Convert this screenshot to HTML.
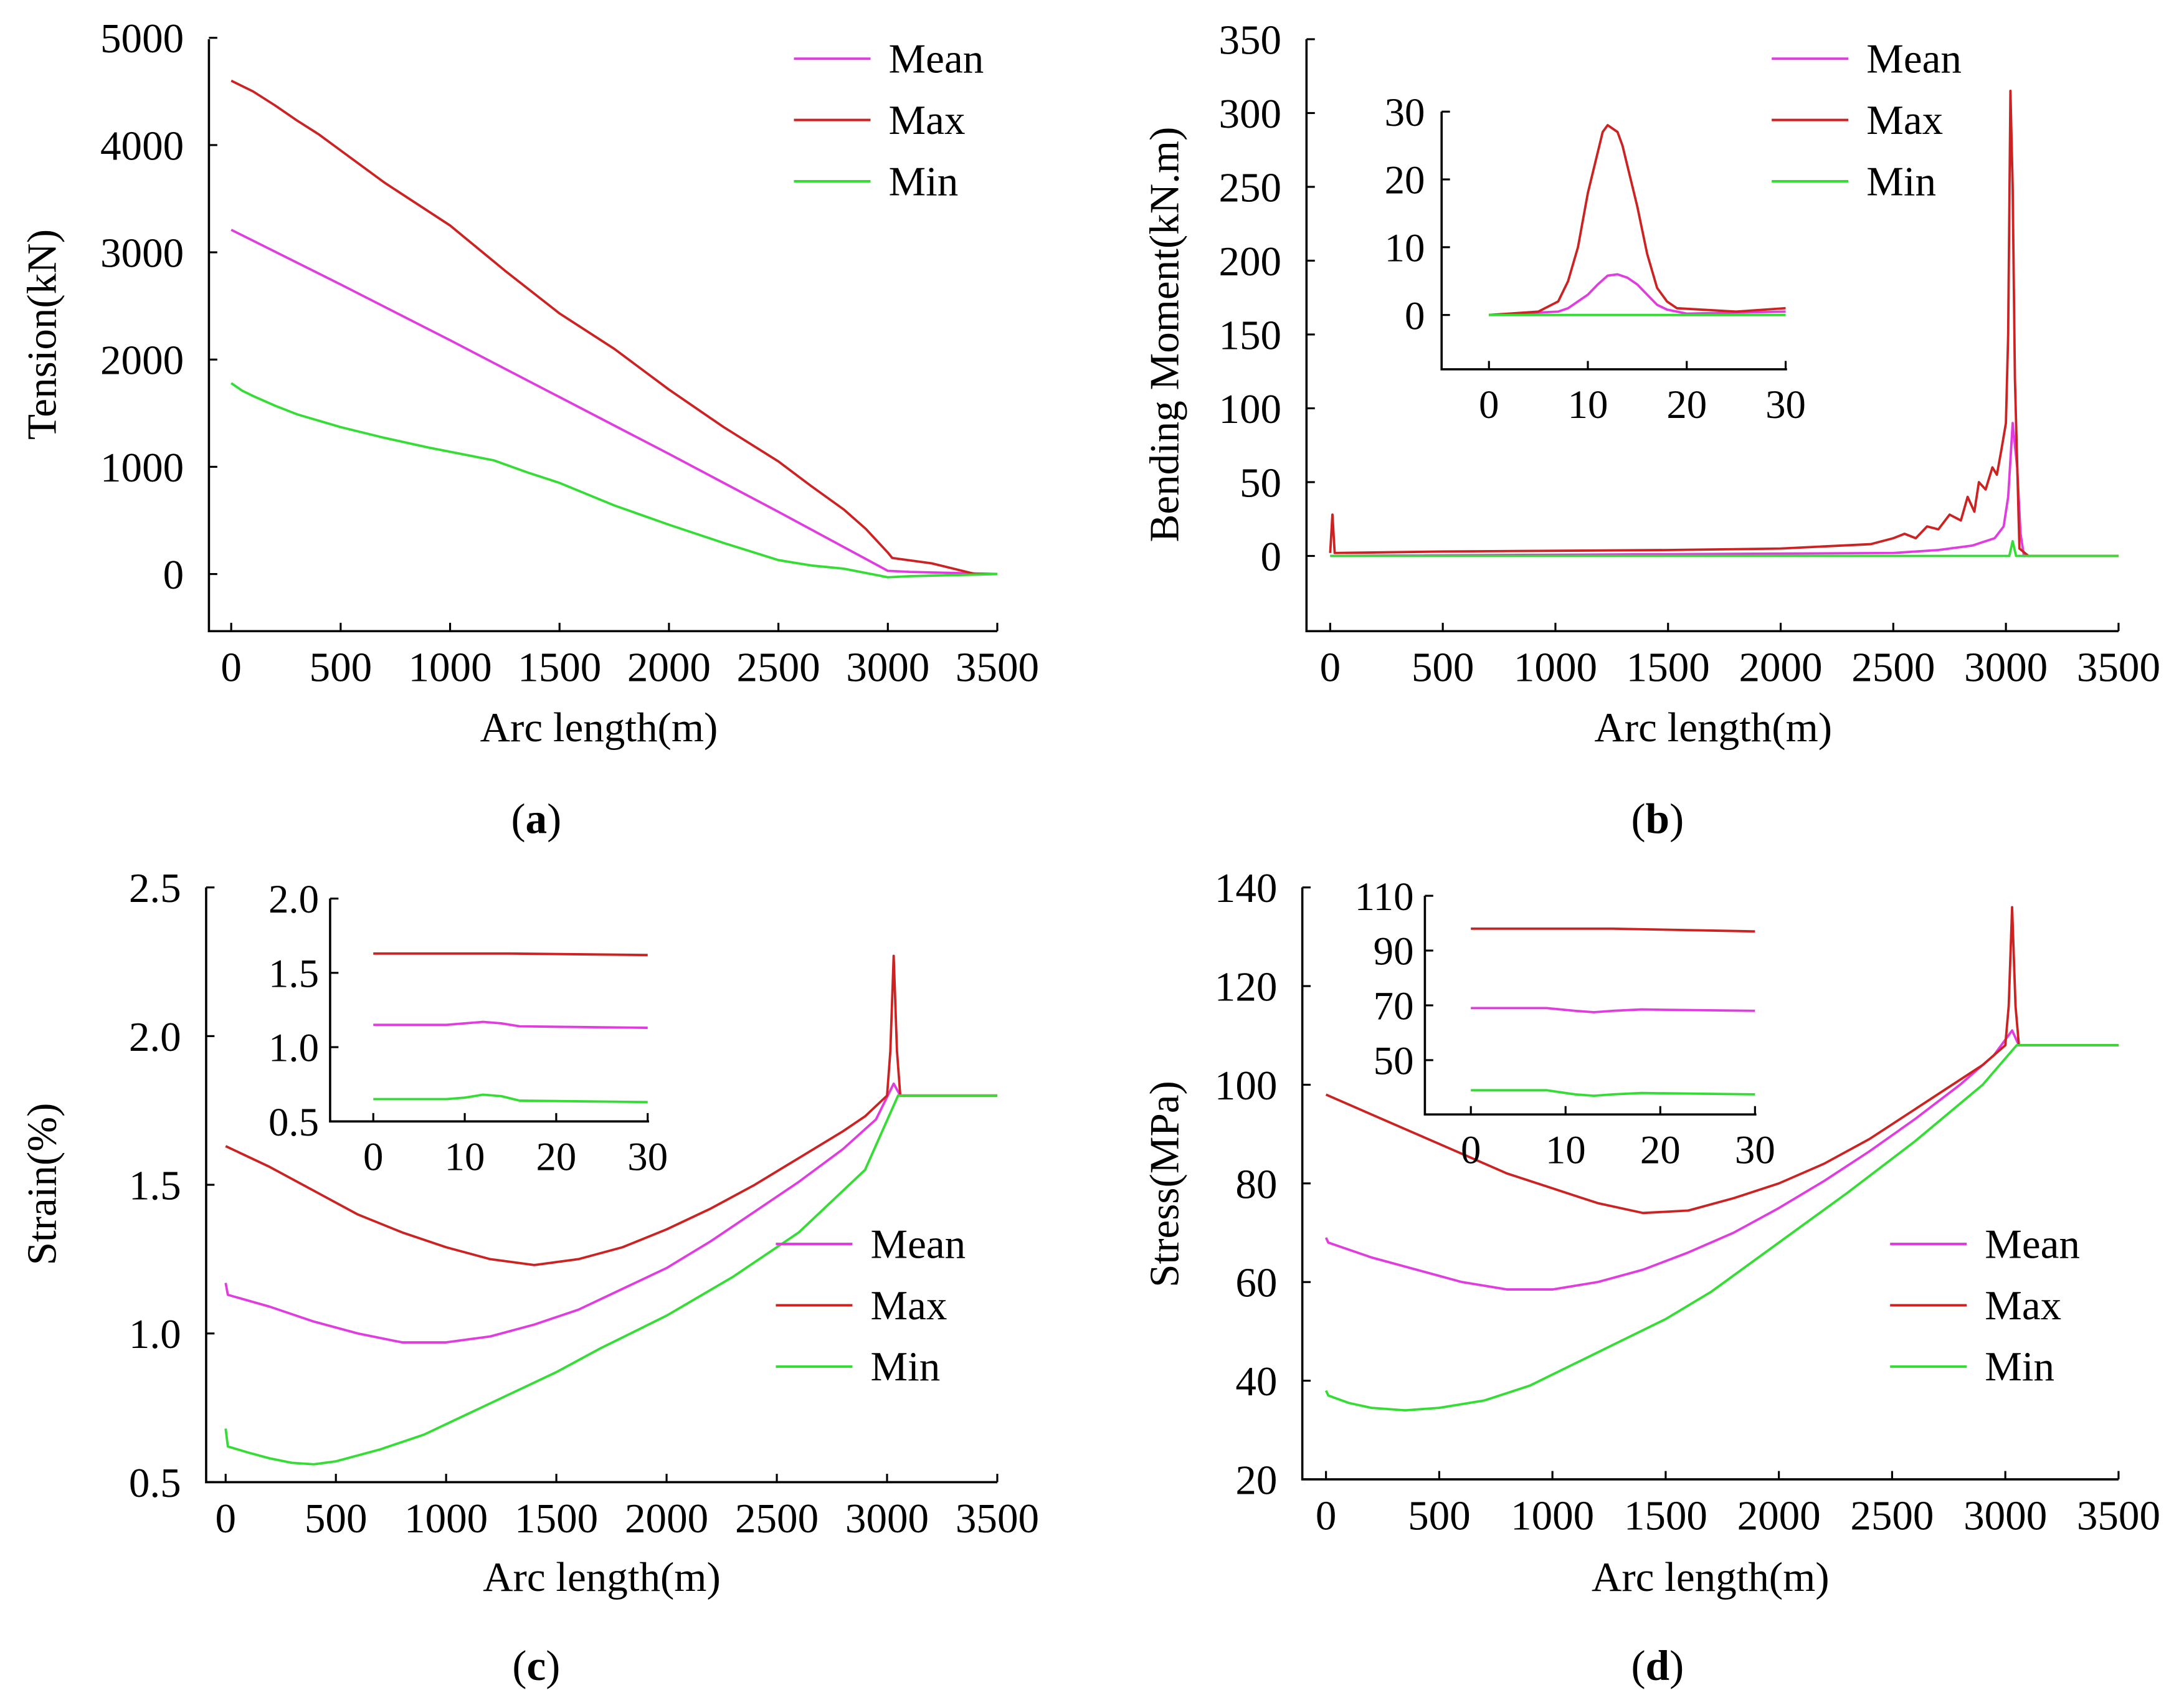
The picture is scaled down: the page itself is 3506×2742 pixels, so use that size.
<!DOCTYPE html>
<html><head><meta charset="utf-8"><style>
html,body{margin:0;padding:0;background:#fff}
svg{display:block}
text{font-family:"Liberation Serif",serif;fill:#000}
</style></head><body>
<svg id="fig" width="3506" height="2742" viewBox="0 0 1568 1226" xmlns="http://www.w3.org/2000/svg"></svg>
<script>
// ---- Panel (a) Tension ----
const aMaxX=[0,100,200,300,400,500,700,1000,1250,1500,1750,2000,2250,2500,2650,2800,2900,3000,3020,3200,3400,3500];
const aMaxY=[4600,4500,4370,4230,4100,3950,3650,3250,2830,2430,2100,1720,1370,1050,820,600,420,200,150,100,0,0];
const aMeanX=[0,500,1000,1500,2000,2500,3000,3100,3500];
const aMeanY=[3210,2700,2180,1650,1120,580,30,20,0];
const aMinX=[0,50,100,200,300,400,500,700,900,1000,1200,1350,1500,1750,2000,2250,2500,2650,2800,3000,3100,3500];
const aMinY=[1780,1710,1660,1570,1490,1430,1370,1270,1180,1140,1060,950,850,640,460,290,130,80,50,-30,-20,0];
const aYTicks=[0,1000,2000,3000,4000,5000];
const xTicks=[0,500,1000,1500,2000,2500,3000,3500];
// ---- Panel (b) Bending moment ----
const bMaxX=[0,10,20,500,1500,2000,2400,2500,2550,2600,2650,2700,2750,2800,2830,2860,2880,2910,2940,2960,2980,3000,3010,3020,3030,3040,3060,3100,3500];
const bMaxY=[2,28,2,3,4,5,8,12,15,12,20,18,28,24,40,30,50,45,60,55,72,90,150,315,250,120,5,0,0];
const bMeanX=[0,2500,2700,2850,2950,2990,3010,3030,3050,3065,3080,3500];
const bMeanY=[0,2,4,7,12,20,40,90,60,15,0,0];
const bMinX=[0,3015,3030,3045,3500];
const bMinY=[0,0,10,0,0];
const bYTicks=[0,50,100,150,200,250,300,350];
const biMaxX=[0,5,7,8,9,10,11,11.5,12,13,13.5,14,15,16,17,18,19,25,30];
const biMaxY=[0,0.5,2,5,10,18,24,27,28,27,25,22,16,9,4,2,1,0.5,1];
const biMeanX=[0,7,8,9,10,11,12,13,14,15,16,17,18,20,30];
const biMeanY=[0,0.5,1,2,3,4.5,5.8,6,5.5,4.5,3,1.5,0.8,0.2,0.5];
const biMinX=[0,30];
const biMinY=[0,0];
const biYTicks=[0,10,20,30];
const inXTicks=[0,10,20,30];
// ---- Panel (c) Strain ----
const cMaxX=[0,200,400,600,800,1000,1200,1400,1600,1800,2000,2200,2400,2600,2800,2900,3000,3015,3030,3045,3060,3500];
const cMaxY=[1.63,1.56,1.48,1.40,1.34,1.29,1.25,1.23,1.25,1.29,1.35,1.42,1.50,1.59,1.68,1.73,1.80,1.95,2.27,1.95,1.80,1.80];
const cMeanX=[0,10,200,400,600,800,1000,1200,1400,1600,1800,2000,2200,2400,2600,2800,2950,3030,3060,3500];
const cMeanY=[1.17,1.13,1.09,1.04,1.00,0.97,0.97,0.99,1.03,1.08,1.15,1.22,1.31,1.41,1.51,1.62,1.72,1.84,1.80,1.80];
const cMinX=[0,10,100,200,300,400,500,700,900,1100,1300,1500,1700,2000,2300,2600,2900,3050,3500];
const cMinY=[0.68,0.62,0.60,0.58,0.565,0.56,0.57,0.61,0.66,0.73,0.80,0.87,0.95,1.06,1.19,1.34,1.55,1.80,1.80];
const cYTicks=[0.5,1.0,1.5,2.0,2.5];
const ciMaxX=[0,15,30];const ciMaxY=[1.63,1.63,1.62];
const ciMeanX=[0,8,10,12,14,16,30];const ciMeanY=[1.15,1.15,1.16,1.17,1.16,1.14,1.13];
const ciMinX=[0,8,10,12,14,16,30];const ciMinY=[0.65,0.65,0.66,0.68,0.67,0.64,0.63];
const ciYTicks=[0.5,1.0,1.5,2.0];
// ---- Panel (d) Stress ----
const dMaxX=[0,200,400,600,800,1000,1200,1400,1600,1800,2000,2200,2400,2600,2700,2800,2900,3000,3015,3030,3045,3060,3500];
const dMaxY=[98,94,90,86,82,79,76,74,74.5,77,80,84,89,95,98,101,104,108,116,136,116,108,108];
const dMeanX=[0,10,200,400,600,800,1000,1200,1400,1600,1800,2000,2200,2400,2600,2800,2950,3030,3060,3500];
const dMeanY=[69,68,65,62.5,60,58.5,58.5,60,62.5,66,70,75,80.5,86.5,93,100,106,111,108,108];
const dMinX=[0,10,100,200,350,500,700,900,1100,1300,1500,1700,2000,2300,2600,2900,3050,3500];
const dMinY=[38,37,35.5,34.5,34,34.5,36,39,43.5,48,52.5,58,68,78,88.5,100,108,108];
const dYTicks=[20,40,60,80,100,120,140];
const diMaxX=[0,15,30];const diMaxY=[98,98,97];
const diMeanX=[0,8,11,13,15,18,30];const diMeanY=[69,69,68,67.5,68,68.5,68];
const diMinX=[0,8,11,13,15,18,30];const diMinY=[39,39,37.5,37,37.5,38,37.5];
const diYTicks=[50,70,90,110];

const NS="http://www.w3.org/2000/svg";
const svg=document.getElementById('fig');
const C={mean:"#e03ce0",max:"#cc2222",min:"#33dd33"};
function mk(tag,attrs,parent){const e=document.createElementNS(NS,tag);for(const k in attrs)e.setAttribute(k,attrs[k]);(parent||svg).appendChild(e);return e;}
function txt(s,x,y,size,anchor,parent,rot){const t=mk('text',{x:x,y:y,'font-size':size,'text-anchor':anchor||'middle'},parent);if(rot)t.setAttribute('transform','rotate(-90 '+x+' '+y+')');t.textContent=s;return t;}

function panel(o){
  const g=mk('g',{});
  
  
  const sx=v=>o.x0+(v-o.xmin)/(o.xmax-o.xmin)*(o.x1-o.x0);
  const sy=v=>o.y0+(v-o.ymin)/(o.ymax-o.ymin)*(o.y1-o.y0);
  const ax=mk('path',{d:`M${o.ax} ${o.top}V${o.bottom}H${o.right}`,stroke:'#000','stroke-width':1.6,fill:'none'},g);
  
  
  o.xt.forEach(v=>{
    mk('line',{x1:sx(v),x2:sx(v),y1:o.bottom,y2:o.bottom-6,stroke:'#000','stroke-width':1.4},g);
    const t=txt(String(v),sx(v),o.bottom+o.fs+6,o.fs,'middle',g);
    
    
  });
  o.yt.forEach(v=>{
    mk('line',{x1:o.ax,x2:o.ax+6,y1:sy(v),y2:sy(v),stroke:'#000','stroke-width':1.4},g);
    const t=txt(o.fmt?o.fmt(v):String(v),o.ax-o.lgap,sy(v)+o.fs*0.35,o.fs,'end',g);
    
    
  });
  o.series.forEach(s=>{
    const d=s.x.map((xv,i)=>(i?'L':'M')+sx(xv).toFixed(2)+' '+sy(s.y[i]).toFixed(2)).join('');
    const p=mk('path',{d:d,stroke:C[s.k],'stroke-width':1.7,fill:'none','stroke-linejoin':'round'},g);
    
    
  });
  return g;
}
function legend(x,y,name){
  const g=mk('g',{});
  
  
  [['mean','Mean'],['max','Max'],['min','Min']].forEach((e,i)=>{
    mk('line',{x1:x,x2:x+55,y1:y+i*44,y2:y+i*44,stroke:C[e[0]],'stroke-width':1.8},g);
    const t=txt(e[1],x+68,y+i*44+10,30,'start',g);
    
    
  });
}
function labels(xc,xy,yx,yc,ylab,cap,cx,cy){
  let t=txt('Arc length(m)',xc,xy,30,'middle');
  
  t=txt(ylab,yx,yc,30,'middle',null,true);
  
  t=mk('text',{x:cx,y:cy,'font-size':31,'text-anchor':'middle'});
  t.innerHTML='(<tspan font-weight="bold">'+cap+'</tspan>)';
  
}
const S=(a,b,c,d,e,f)=>[{k:'mean',x:a,y:b},{k:'max',x:c,y:d},{k:'min',x:e,y:f}];

// (a)
panel({name:'panel-a',ax:150,top:28,bottom:453,right:716,x0:166,x1:716,xmin:0,xmax:3500,y0:412,y1:27,ymin:0,ymax:5000,xt:xTicks,yt:aYTicks,fs:30,lgap:18,
  series:S(aMeanX,aMeanY,aMaxX,aMaxY,aMinX,aMinY)});
legend(570,42,'legend-a');
labels(430,532,40,240,'Tension(kN)','a',385,598);
// (b)
panel({name:'panel-b',ax:938,top:28,bottom:453,right:1521,x0:955,x1:1521,xmin:0,xmax:3500,y0:399,y1:28,ymin:0,ymax:350,xt:xTicks,yt:bYTicks,fs:30,lgap:18,
  series:S(bMeanX,bMeanY,bMaxX,bMaxY,bMinX,bMinY)});
panel({name:'inset-b',ax:1035,top:80,bottom:265,right:1283,x0:1069,x1:1282,xmin:0,xmax:30,y0:226,y1:80,ymin:0,ymax:30,xt:inXTicks,yt:biYTicks,fs:29,lgap:12,
  series:S(biMeanX,biMeanY,biMaxX,biMaxY,biMinX,biMinY)});
legend(1272,42,'legend-b');
labels(1230,532,846,240,'Bending Moment(kN.m)','b',1190,598);
// (c)
panel({name:'panel-c',ax:148,top:637,bottom:1064,right:716,x0:162,x1:716,xmin:0,xmax:3500,y0:1064,y1:637,ymin:0.5,ymax:2.5,xt:xTicks,yt:cYTicks,fs:30,lgap:18,fmt:v=>v.toFixed(1),
  series:S(cMeanX,cMeanY,cMaxX,cMaxY,cMinX,cMinY)});
panel({name:'inset-c',ax:237,top:645,bottom:805,right:466,x0:268,x1:465,xmin:0,xmax:30,y0:805,y1:645,ymin:0.5,ymax:2.0,xt:inXTicks,yt:ciYTicks,fs:29,lgap:8,fmt:v=>v.toFixed(1),
  series:S(ciMeanX,ciMeanY,ciMaxX,ciMaxY,ciMinX,ciMinY)});
legend(557,893,'legend-c');
labels(432,1142,40,850,'Strain(%)','c',385,1206);
// (d)
panel({name:'panel-d',ax:935,top:637,bottom:1062,right:1521,x0:952,x1:1521,xmin:0,xmax:3500,y0:1062,y1:637,ymin:20,ymax:140,xt:xTicks,yt:dYTicks,fs:30,lgap:18,
  series:S(dMeanX,dMeanY,dMaxX,dMaxY,dMinX,dMinY)});
panel({name:'inset-d',ax:1023,top:643,bottom:800,right:1261,x0:1056,x1:1260,xmin:0,xmax:30,y0:761,y1:643,ymin:50,ymax:110,xt:inXTicks,yt:diYTicks,fs:29,lgap:8,
  series:S(diMeanX,diMeanY,diMaxX,diMaxY,diMinX,diMinY)});
legend(1357,893,'legend-d');
labels(1228,1142,846,850,'Stress(MPa)','d',1190,1206);
</script>
</body></html>
